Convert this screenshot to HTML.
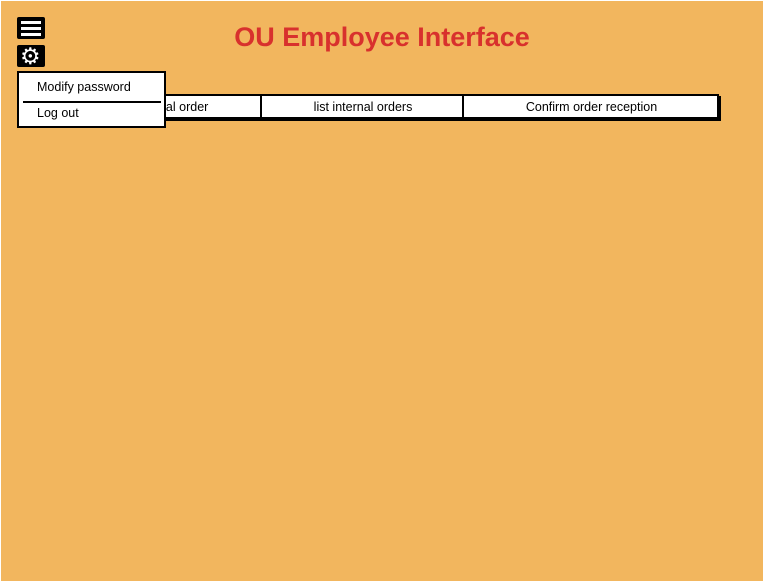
<!DOCTYPE html>
<html><head><style>
body{margin:0;width:764px;height:583px;background:#fff;position:relative;overflow:hidden;font-family:"Liberation Sans",sans-serif}
.bg{position:absolute;left:1px;top:1px;width:762px;height:580px;background:#f2b65e}
.t{position:absolute;left:0;width:764px;top:22px;text-align:center;color:#d8312d;font-size:27px;font-weight:bold}
.bar{position:absolute;left:58px;top:94px;width:657px;height:21px;background:#fff;border:2px solid #000;box-shadow:2px 2px 0 #000}
.c{position:absolute;top:0;height:21px;line-height:23px;font-size:12.5px;text-align:center}
.menu{position:absolute;left:17px;top:71px;width:145px;height:53px;background:#fff;border:2px solid #000}
.mi{position:absolute;left:18px;font-size:12.5px}
.ic{position:absolute;left:17px;width:28px;height:22px;background:#000;border-radius:2px}
</style></head><body>
<div class="bg"></div>
<div class="t">OU Employee Interface</div>
<div class="bar">
<div class="c" style="left:0;width:182px">Create internal order</div>
<div class="c" style="left:200px;width:202px;border-left:2px solid #000">list internal orders</div>
<div class="c" style="left:402px;width:255px;border-left:2px solid #000">Confirm order reception</div>
</div>
<div class="ic" style="top:17px"><div style="position:absolute;left:4px;top:4px;width:20px;height:3px;background:#fff"></div><div style="position:absolute;left:4px;top:10px;width:20px;height:3px;background:#fff"></div><div style="position:absolute;left:4px;top:16px;width:20px;height:3px;background:#fff"></div></div>
<div class="ic" style="top:45px"><div style="position:absolute;left:3px;top:0px;color:#fff;font-size:23px;line-height:22px">⚙</div></div>
<div class="menu">
<div class="mi" style="top:7px">Modify password</div>
<div style="position:absolute;left:4px;top:28px;width:138px;height:1.5px;background:#000"></div>
<div class="mi" style="top:33px">Log out</div>
</div>
</body></html>
